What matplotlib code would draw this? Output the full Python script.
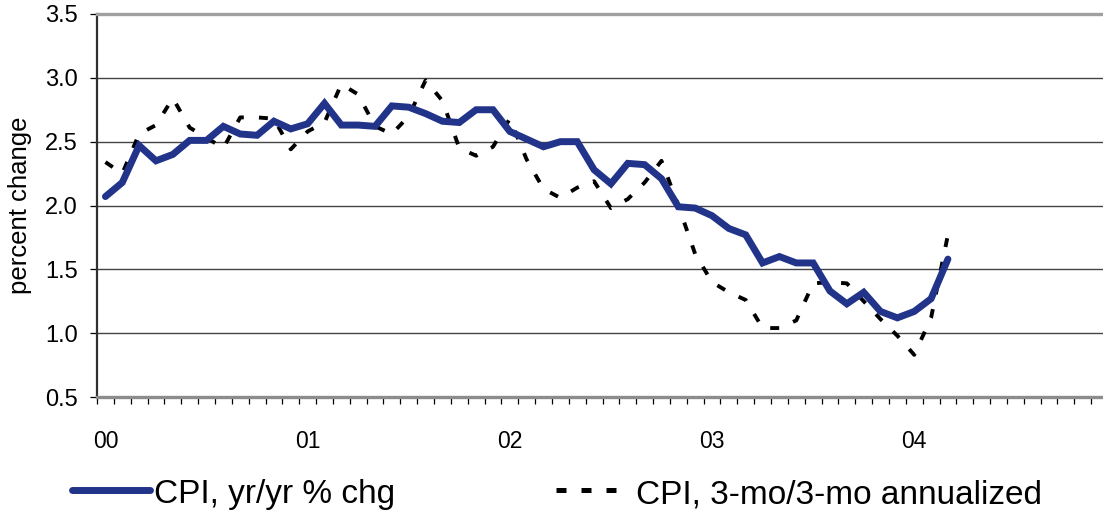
import matplotlib
matplotlib.use("Agg")
import matplotlib.pyplot as plt
from matplotlib.lines import Line2D

plt.rcParams['font.family'] = ['Liberation Sans', 'DejaVu Sans']

# ---- data (monthly, Jan 2000 .. Mar 2004) ----
year_labels = ["00", "01", "02", "03", "04"]
n_categories = 60  # Jan 2000 .. Dec 2004 on the category axis

cpi_yoy = [2.07, 2.18, 2.47, 2.35, 2.40, 2.51, 2.51, 2.62, 2.56, 2.55,
           2.66, 2.60, 2.64, 2.80, 2.63, 2.63, 2.62, 2.78, 2.77, 2.72,
           2.66, 2.65, 2.75, 2.75, 2.58, 2.52, 2.46, 2.50, 2.50, 2.28,
           2.17, 2.33, 2.32, 2.21, 1.99, 1.98, 1.92, 1.82, 1.77, 1.55,
           1.60, 1.55, 1.55, 1.33, 1.23, 1.32, 1.17, 1.12, 1.17, 1.27,
           1.58]

cpi_3m = [2.34, 2.25, 2.56, 2.63, 2.84, 2.61, 2.53, 2.45, 2.69, 2.69,
          2.68, 2.44, 2.58, 2.65, 2.95, 2.87, 2.62, 2.56, 2.70, 2.98,
          2.82, 2.45, 2.39, 2.46, 2.68, 2.36, 2.13, 2.06, 2.14, 2.19,
          1.98, 2.05, 2.18, 2.35, 2.00, 1.62, 1.40, 1.32, 1.26, 1.04,
          1.04, 1.10, 1.39, 1.40, 1.39, 1.25, 1.11, 0.98, 0.83, 1.12,
          1.77]

series_labels = ["CPI, yr/yr % chg", "CPI, 3-mo/3-mo annualized"]
y_ticks = [0.5, 1.0, 1.5, 2.0, 2.5, 3.0, 3.5]
y_label = "percent change"

blue = "#22348A"

W, H = 1103, 519
fig = plt.figure(figsize=(W / 100, H / 100), dpi=100)
ax = fig.add_axes([97 / W, 1 - 397 / H, 1011 / W, 383 / H])

x1 = list(range(len(cpi_yoy)))
x2 = list(range(len(cpi_3m)))

ln2, = ax.plot(x2, cpi_3m, color="black", lw=2.8, solid_capstyle="butt",
               dash_capstyle="butt", zorder=3)
ln2.set_dashes([2.3, 3.9])
ln1, = ax.plot(x1, cpi_yoy, color=blue, lw=5.0, solid_joinstyle="miter",
               solid_capstyle="round", zorder=4)

ax.set_xlim(-0.5, n_categories - 0.5)
ax.set_ylim(0.5, 3.5)

ax.set_yticks(y_ticks)
ax.set_yticklabels([f"{v:.1f}" for v in y_ticks])
ax.tick_params(axis="y", direction="out", length=5, width=0.9, pad=9,
               labelsize=17, color="black")

ax.set_xticks([k - 0.5 for k in range(n_categories + 1)])
ax.set_xticklabels([])
ax.tick_params(axis="x", which="major", direction="out", length=5,
               width=0.9, color="black")
ax.set_xticks([12 * k for k in range(len(year_labels))], minor=True)
ax.set_xticklabels(year_labels, minor=True)
ax.tick_params(axis="x", which="minor", length=0, pad=24, labelsize=16.5)

for v in y_ticks[1:-1]:
    ax.axhline(v, color="#444444", lw=1.0, zorder=1)

ax.spines["left"].set_color("#303030")
ax.spines["left"].set_linewidth(1.6)
ax.spines["top"].set_color("#a0a0a0")
ax.spines["top"].set_linewidth(2.4)
ax.spines["bottom"].set_color("#8c8c8c")
ax.spines["bottom"].set_linewidth(2.4)
ax.spines["right"].set_visible(False)

ax.set_ylabel(y_label, fontsize=18.5)
ax.yaxis.set_label_coords(-0.064, 0.5)

# ---- legend drawn below the plot ----
ly = 1 - 490 / H
fig.add_artist(Line2D([72 / W, 150 / W], [ly, ly], color=blue, lw=5.0,
                      solid_capstyle="round", transform=fig.transFigure))
fig.text(154 / W, 1 - 495 / H, series_labels[0], fontsize=24,
         ha="left", va="center")
d = Line2D([556 / W, 616 / W], [ly, ly], color="black", lw=3.6,
           dash_capstyle="butt", transform=fig.transFigure)
d.set_dashes([2.0, 3.0])
fig.add_artist(d)
fig.text(636 / W, 1 - 495 / H, series_labels[1], fontsize=24,
         ha="left", va="center")

fig.savefig("out.png", dpi=100)
